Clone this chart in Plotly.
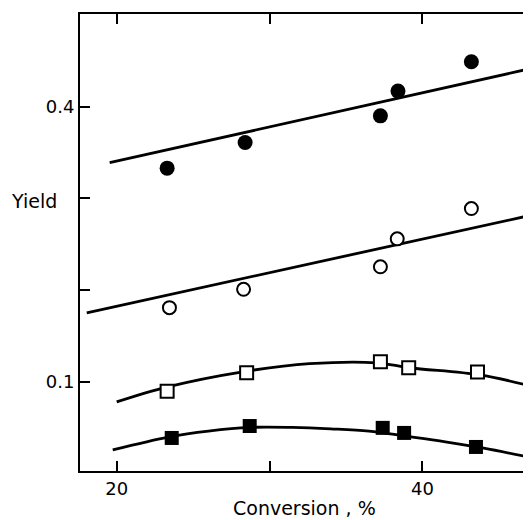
import plotly.graph_objects as go

# Data
conv_filled_circle = [23.3, 28.4, 37.25, 38.4, 43.2]
yield_filled_circle = [0.333, 0.361, 0.390, 0.417, 0.449]

conv_open_circle = [23.45, 28.3, 37.25, 38.35, 43.2]
yield_open_circle = [0.181, 0.201, 0.2255, 0.256, 0.289]

conv_open_square = [23.3, 28.5, 37.25, 39.1, 43.6]
yield_open_square = [0.090, 0.110, 0.122, 0.1155, 0.111]

conv_filled_square = [23.6, 28.7, 37.4, 38.8, 43.5]
yield_filled_square = [0.039, 0.052, 0.050, 0.0445, 0.0292]

# Fitted lines / curves
fit_fc_x = [19.54, 46.67]
fit_fc_y = [0.339, 0.440]

fit_oc_x = [18.04, 46.67]
fit_oc_y = [0.1754, 0.2801]

fit_os_x = [20.0, 23.33, 28.24, 32.61, 36.99, 39.15, 43.73, 46.8]
fit_os_y = [0.0783, 0.0947, 0.1111, 0.1199, 0.1209, 0.1155, 0.1077, 0.0968]

fit_fs_x = [19.74, 23.46, 26.0, 28.7, 31.5, 34.0, 36.5, 38.9, 41.5, 44.0, 46.8]
fit_fs_y = [0.0260, 0.0403, 0.0465, 0.0505, 0.0505, 0.0490, 0.0465, 0.0410, 0.0348, 0.0278, 0.0187]

x_tickvals = [20, 30, 40]
x_ticktext = ["20", "", "40"]
y_tickvals = [0.1, 0.2, 0.3, 0.4]
y_ticktext = ["0.1", "", "", "0.4"]

FONT = "DejaVu Sans"
fig = go.Figure()

line_style = dict(color="black", width=2.8)
fig.add_trace(go.Scatter(x=fit_fc_x, y=fit_fc_y, mode="lines", line=line_style))
fig.add_trace(go.Scatter(x=fit_oc_x, y=fit_oc_y, mode="lines", line=line_style))
fig.add_trace(go.Scatter(x=fit_os_x, y=fit_os_y, mode="lines",
                         line=dict(color="black", width=2.8, shape="spline", smoothing=1.0)))
fig.add_trace(go.Scatter(x=fit_fs_x, y=fit_fs_y, mode="lines",
                         line=dict(color="black", width=2.8, shape="spline", smoothing=1.0)))

fig.add_trace(go.Scatter(x=conv_filled_circle, y=yield_filled_circle, mode="markers",
                         marker=dict(symbol="circle", size=15, color="black",
                                     line=dict(color="black", width=0))))
fig.add_trace(go.Scatter(x=conv_open_circle, y=yield_open_circle, mode="markers",
                         marker=dict(symbol="circle", size=13, color="white",
                                     line=dict(color="black", width=2))))
fig.add_trace(go.Scatter(x=conv_open_square, y=yield_open_square, mode="markers",
                         marker=dict(symbol="square", size=13, color="white",
                                     line=dict(color="black", width=2))))
fig.add_trace(go.Scatter(x=conv_filled_square, y=yield_filled_square, mode="markers",
                         marker=dict(symbol="square", size=14, color="black",
                                     line=dict(color="black", width=0))))

# The page body adds an 8 px margin, so the figure is 8 px smaller each way.
fig.update_layout(
    width=523, height=512,
    margin=dict(l=72, r=0, t=6, b=49),
    paper_bgcolor="white", plot_bgcolor="white",
    showlegend=False,
    font=dict(family=FONT, size=18, color="black"),
    xaxis=dict(range=[17.6, 47.1], tickvals=x_tickvals, ticktext=x_ticktext,
               ticks="inside", ticklen=10, tickwidth=2, tickcolor="black",
               showline=True, linewidth=2, linecolor="black", mirror="ticks",
               showgrid=False, zeroline=False,
               tickfont=dict(family=FONT, size=18)),
    yaxis=dict(range=[0.003, 0.501], tickvals=y_tickvals, ticktext=y_ticktext,
               ticks="inside", ticklen=10, tickwidth=2, tickcolor="black",
               showline=True, linewidth=2, linecolor="black",
               showgrid=False, zeroline=False,
               tickfont=dict(family=FONT, size=18)),
    yaxis2=dict(range=[0.003, 0.501], overlaying="y", side="right",
                tickvals=y_tickvals, showticklabels=False,
                ticks="inside", ticklen=10, tickwidth=2, tickcolor="black",
                showline=False, showgrid=False, zeroline=False),
    annotations=[
        dict(text="Yield", xref="paper", yref="paper", x=-0.101, y=0.591,
             xanchor="center", yanchor="middle", showarrow=False,
             font=dict(family=FONT, size=19)),
        dict(text="Conversion , %", xref="paper", yref="paper", x=0.497, y=-0.080,
             xanchor="center", yanchor="middle", showarrow=False, borderpad=0,
             font=dict(family=FONT, size=19)),
    ],
)

fig.write_html("out.html")
